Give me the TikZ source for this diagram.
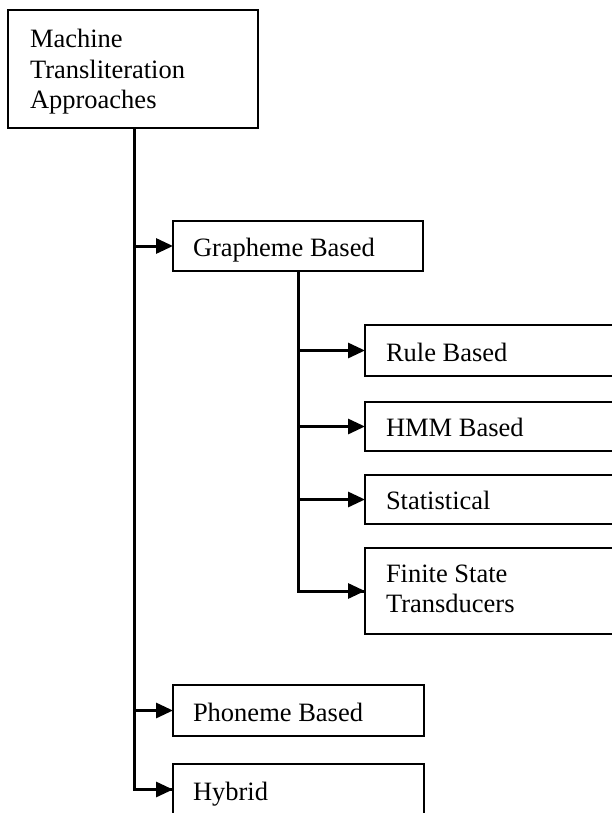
\documentclass[tikz,border=0pt]{standalone}
\usepackage{fontspec}
\setmainfont{Liberation Serif}
\usetikzlibrary{arrows.meta}
\begin{document}
\begin{tikzpicture}[x=1pt,y=-1pt,
  box/.style={draw, line width=1.8pt, rectangle, inner sep=0pt, outer sep=0pt, anchor=north west},
  txt/.style={inner sep=0pt, outer sep=0pt, anchor=base west, font=\fontsize{26.5}{30.8}\selectfont, align=left},
  conn/.style={line width=3pt},
  arr/.style={line width=3pt, -{Triangle[length=17pt,width=15pt]}}]
\useasboundingbox (0,0) rectangle (612,813);
\clip (0,0) rectangle (612,813);
% boxes
\node[box, minimum width=250pt, minimum height=118pt] (mta) at (8,10) {};
\node[box, minimum width=250pt, minimum height=50pt] (gra) at (173,221) {};
\node[box, minimum width=270pt, minimum height=51pt] (rule) at (365,325) {};
\node[box, minimum width=270pt, minimum height=49pt] (hmm) at (365,402) {};
\node[box, minimum width=270pt, minimum height=49pt] (stat) at (365,475) {};
\node[box, minimum width=270pt, minimum height=86pt] (fst) at (365,548) {};
\node[box, minimum width=251pt, minimum height=51pt] (pho) at (173,685) {};
\node[box, minimum width=251pt, minimum height=51pt] (hyb) at (173,764) {};
% texts
\node[txt, anchor=north west] (mtat) at (30,28.9) {Machine\\Transliteration\\Approaches};
\node[txt] (grat) at (193,256) {Grapheme Based};
\node[txt] (rulet) at (386,361) {Rule Based};
\node[txt] (hmmt) at (386,436.5) {HMM Based};
\node[txt] (statt) at (386,509.5) {Statistical};
\node[txt, anchor=north west, font=\fontsize{26.5}{30}\selectfont] (fstt) at (386,564.9) {Finite State\\Transducers};
\node[txt] (phot) at (193,721) {Phoneme Based};
\node[txt] (hybt) at (193,800) {Hybrid};
% trunks
\coordinate (t0) at ([xshift=126pt]mta.south west);
\coordinate (s0) at ([xshift=125pt]gra.south west);
\draw[conn] (t0) |- (hyb.west);
\draw[arr] (t0 |- gra.west) -- (gra.west);
\draw[arr] (t0 |- pho.west) -- (pho.west);
\draw[arr] (t0 |- hyb.west) -- (hyb.west);
\draw[conn] (s0) |- (fst.west);
\draw[arr] (s0 |- rule.west) -- (rule.west);
\draw[arr] (s0 |- hmm.west) -- (hmm.west);
\draw[arr] (s0 |- stat.west) -- (stat.west);
\draw[arr] (s0 |- fst.west) -- (fst.west);
\end{tikzpicture}
\end{document}
